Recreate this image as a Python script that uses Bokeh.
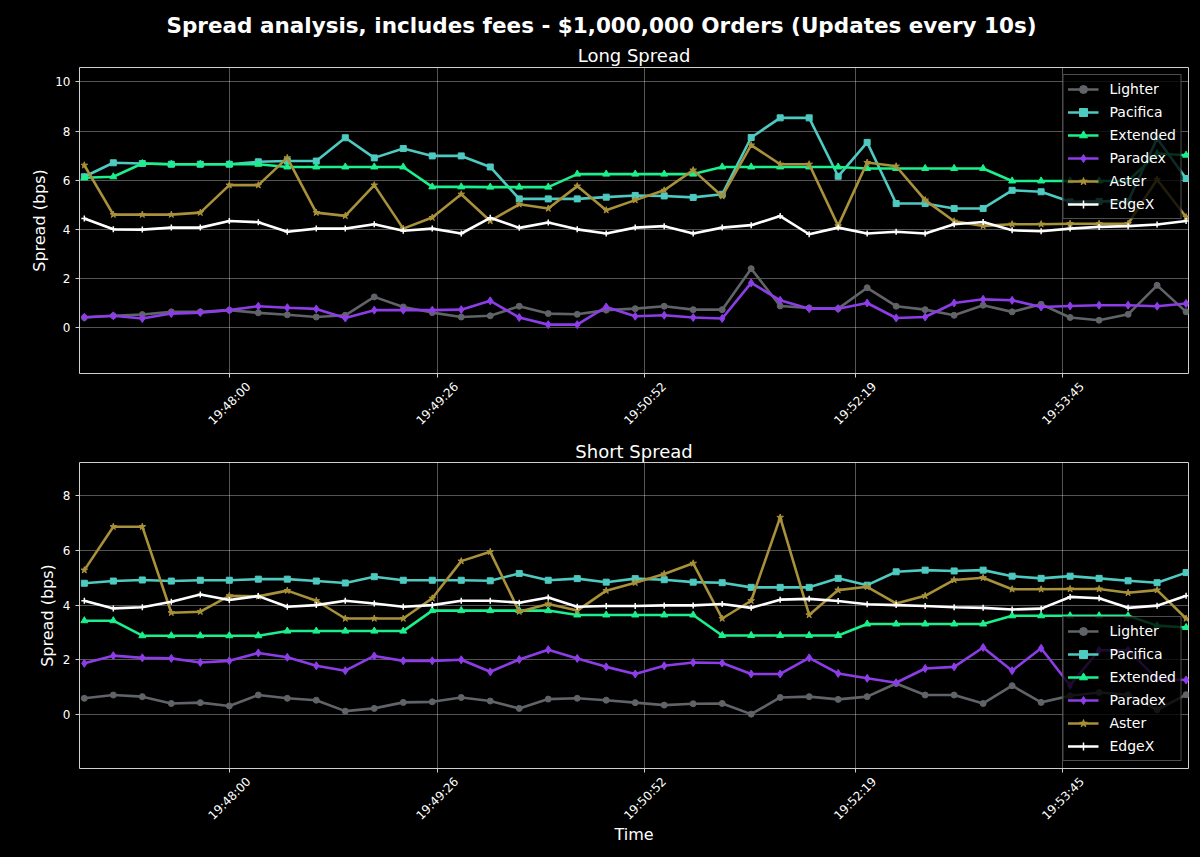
from math import pi
from bokeh.plotting import figure
from bokeh.layouts import column
from bokeh.models import Title, FixedTicker, Legend, LegendItem, Range1d, ColumnDataSource, LinearAxis
from bokeh.embed import file_html
from bokeh.resources import INLINE

FONT = "DejaVu Sans"

times = ["19:47:00", "19:47:12", "19:47:24", "19:47:36", "19:47:48",
         "19:48:00", "19:48:12", "19:48:24", "19:48:36", "19:48:48",
         "19:49:00", "19:49:12", "19:49:24", "19:49:36", "19:49:48",
         "19:50:00", "19:50:12", "19:50:24", "19:50:36", "19:50:48",
         "19:51:00", "19:51:12", "19:51:24", "19:51:36", "19:51:48",
         "19:52:00", "19:52:12", "19:52:24", "19:52:36", "19:52:48",
         "19:53:00", "19:53:12", "19:53:24", "19:53:36", "19:53:48",
         "19:54:00", "19:54:12", "19:54:24", "19:54:36"]

tick_labels = ["19:48:00", "19:49:26", "19:50:52", "19:52:19", "19:53:45"]

exchanges = ["Lighter", "Pacifica", "Extended", "Paradex", "Aster", "EdgeX"]
colors = ["#606367", "#4ecac1", "#1bf08c", "#8d3de8", "#a8913a", "#ffffff"]
markers = ["circle", "square", "triangle", "diamond", "star", "cross"]
marker_sizes = [6, 6, 7, 8, 7, 6]

# Long spread (bps)
lighter_long = [0.41, 0.48, 0.53, 0.64, 0.64, 0.71, 0.60, 0.52, 0.43, 0.50, 1.25, 0.84, 0.61,
                0.43, 0.48, 0.87, 0.57, 0.54, 0.71, 0.77, 0.87, 0.73, 0.73, 2.40, 0.88, 0.80,
                0.77, 1.62, 0.87, 0.73, 0.50, 0.91, 0.64, 0.95, 0.41, 0.30, 0.54, 1.72, 0.64]
pacifica_long = [6.14, 6.71, 6.68, 6.65, 6.65, 6.65, 6.75, 6.78, 6.78, 7.73, 6.91, 7.29, 6.99,
                 6.99, 6.54, 5.24, 5.24, 5.24, 5.31, 5.38, 5.36, 5.30, 5.43, 7.74, 8.54, 8.54,
                 6.16, 7.54, 5.05, 5.05, 4.85, 4.85, 5.59, 5.53, 5.12, 5.14, 5.14, 7.70, 6.07]
extended_long = [6.10, 6.14, 6.68, 6.65, 6.65, 6.65, 6.65, 6.54, 6.54, 6.54, 6.54, 6.54, 5.73,
                 5.73, 5.72, 5.72, 5.72, 6.25, 6.25, 6.25, 6.25, 6.25, 6.54, 6.54, 6.54, 6.54,
                 6.54, 6.48, 6.48, 6.48, 6.48, 6.48, 5.97, 5.97, 5.97, 5.97, 5.97, 7.09, 7.02]
paradex_long = [0.42, 0.48, 0.37, 0.57, 0.61, 0.71, 0.87, 0.81, 0.76, 0.39, 0.71, 0.71, 0.71,
                0.73, 1.09, 0.41, 0.12, 0.12, 0.84, 0.46, 0.50, 0.41, 0.37, 1.82, 1.11, 0.77,
                0.77, 1.00, 0.39, 0.43, 1.00, 1.15, 1.11, 0.84, 0.88, 0.91, 0.91, 0.87, 0.98]
aster_long = [6.61, 4.60, 4.60, 4.60, 4.68, 5.80, 5.80, 6.91, 4.68, 4.55, 5.80, 4.03, 4.48,
              5.43, 4.34, 5.02, 4.85, 5.76, 4.78, 5.19, 5.59, 6.41, 5.35, 7.43, 6.65, 6.65,
              4.14, 6.72, 6.57, 5.19, 4.33, 4.14, 4.21, 4.21, 4.23, 4.23, 4.23, 6.03, 4.50]
edgex_long = [4.44, 4.00, 3.99, 4.07, 4.07, 4.34, 4.29, 3.90, 4.03, 4.03, 4.21, 3.94, 4.03,
              3.83, 4.47, 4.06, 4.28, 4.00, 3.83, 4.07, 4.13, 3.83, 4.07, 4.17, 4.54, 3.80,
              4.07, 3.83, 3.90, 3.83, 4.21, 4.30, 3.96, 3.92, 4.03, 4.10, 4.13, 4.20, 4.34]

# Short spread (bps)
lighter_short = [0.59, 0.71, 0.65, 0.40, 0.43, 0.31, 0.71, 0.59, 0.52, 0.12, 0.22, 0.44, 0.46,
                 0.62, 0.49, 0.22, 0.56, 0.59, 0.52, 0.43, 0.34, 0.39, 0.40, 0.01, 0.62, 0.65,
                 0.55, 0.65, 1.13, 0.71, 0.71, 0.40, 1.05, 0.44, 0.68, 0.80, 0.72, 0.17, 0.72]
pacifica_short = [4.80, 4.88, 4.92, 4.88, 4.91, 4.91, 4.95, 4.95, 4.88, 4.81, 5.04, 4.91, 4.91,
                  4.91, 4.89, 5.16, 4.91, 4.97, 4.84, 4.97, 4.93, 4.84, 4.82, 4.65, 4.65, 4.65,
                  4.98, 4.73, 5.22, 5.28, 5.25, 5.28, 5.06, 4.98, 5.06, 4.98, 4.89, 4.82, 5.19]
extended_short = [3.43, 3.43, 2.88, 2.88, 2.88, 2.88, 2.88, 3.05, 3.05, 3.05, 3.05, 3.05, 3.80,
                  3.80, 3.80, 3.80, 3.80, 3.64, 3.64, 3.64, 3.64, 3.64, 2.89, 2.89, 2.89, 2.89,
                  2.89, 3.31, 3.31, 3.31, 3.31, 3.31, 3.61, 3.61, 3.61, 3.61, 3.61, 3.25, 3.18]
paradex_short = [1.87, 2.15, 2.07, 2.05, 1.90, 1.96, 2.25, 2.09, 1.78, 1.60, 2.14, 1.96, 1.96,
                 2.00, 1.56, 2.01, 2.37, 2.05, 1.74, 1.48, 1.78, 1.90, 1.88, 1.48, 1.48, 2.07,
                 1.50, 1.32, 1.16, 1.68, 1.74, 2.45, 1.60, 2.42, 1.06, 2.35, 2.35, 1.30, 1.26]
aster_short = [5.28, 6.87, 6.87, 3.72, 3.76, 4.34, 4.32, 4.53, 4.16, 3.51, 3.51, 3.51, 4.25,
               5.61, 5.95, 3.76, 4.04, 3.80, 4.53, 4.82, 5.14, 5.53, 3.51, 4.16, 7.21, 3.64,
               4.55, 4.67, 4.06, 4.34, 4.92, 5.00, 4.58, 4.58, 4.59, 4.59, 4.45, 4.55, 3.51]
edgex_short = [4.16, 3.88, 3.92, 4.12, 4.39, 4.19, 4.33, 3.94, 4.00, 4.16, 4.06, 3.94, 4.00,
               4.16, 4.16, 4.09, 4.28, 3.94, 3.97, 3.97, 3.99, 3.99, 4.04, 3.90, 4.20, 4.23,
               4.15, 4.03, 4.00, 3.97, 3.92, 3.90, 3.84, 3.87, 4.30, 4.25, 3.90, 3.98, 4.34]

long_series = [lighter_long, pacifica_long, extended_long, paradex_long, aster_long, edgex_long]
short_series = [lighter_short, pacifica_short, extended_short, paradex_short, aster_short, edgex_short]


def to_sec(s):
    h, m, sec = map(int, s.split(":"))
    return h * 3600 + m * 60 + sec


t0 = to_sec(times[0])
xs = [to_sec(t) - t0 for t in times]
tick_pos = [to_sec(t) - t0 for t in tick_labels]
# rotated labels are centred on their tick (shift in seconds ~ 19 px)
LABEL_SHIFT = 8
label_pos = [tp + LABEL_SHIFT for tp in tick_pos]


def style_axis(ax):
    ax.axis_line_color = None
    ax.major_tick_line_color = "#cfcfcf"
    ax.major_tick_out = 4
    ax.major_tick_in = 0
    ax.minor_tick_line_color = None
    ax.major_label_text_font = FONT
    ax.major_label_text_font_size = "12px"
    ax.major_label_text_color = "white"
    ax.axis_label_text_font = FONT
    ax.axis_label_text_font_size = "16px"
    ax.axis_label_text_font_style = "normal"
    ax.axis_label_text_color = "white"
    ax.major_label_standoff = 5
    ax.axis_label_standoff = 3


def make_panel(series, y_lo, y_hi, yticks, height, top, bottom, legend_loc, xlabel=None):
    p = figure(width=1200, height=height, output_backend="svg", toolbar_location=None,
               x_range=Range1d(-2, 457), y_range=Range1d(y_lo, y_hi),
               min_border_left=79, min_border_right=12, min_border_top=top, min_border_bottom=bottom,
               background_fill_color="black", border_fill_color="black",
               outline_line_color="#cfcfcf", outline_line_width=1)

    # tick marks + grid positions
    xa = p.xaxis[0]
    style_axis(xa)
    xa.ticker = FixedTicker(ticks=tick_pos)
    xa.major_label_overrides = {tp: "" for tp in tick_pos}
    xa.major_label_text_font_size = "0px"
    xa.major_label_standoff = 0
    # tick labels, rotated and centred on their ticks
    la = LinearAxis(ticker=FixedTicker(ticks=label_pos),
                    major_label_overrides={lp: lbl for lp, lbl in zip(label_pos, tick_labels)})
    style_axis(la)
    la.major_tick_out = 0
    la.major_tick_line_color = None
    la.major_label_orientation = pi / 4
    la.major_label_standoff = 7
    if xlabel:
        la.axis_label = xlabel
        la.axis_label_standoff = -6
    p.add_layout(la, "below")

    ya = p.yaxis[0]
    style_axis(ya)
    ya.ticker = FixedTicker(ticks=yticks)
    ya.axis_label = "Spread (bps)"

    p.grid.grid_line_color = "white"
    p.grid.grid_line_alpha = 0.33
    p.grid.grid_line_width = 1

    items = []
    for name, col, mk, ms, ys in zip(exchanges, colors, markers, marker_sizes, series):
        src = ColumnDataSource(dict(x=xs, y=ys))
        lr = p.line("x", "y", source=src, line_color=col, line_width=2.6)
        sr = p.scatter("x", "y", source=src, marker=mk, size=ms, fill_color=col,
                       line_color=col, line_width=1.5 if mk == "cross" else 1)
        items.append(LegendItem(label=name, renderers=[lr, sr]))
    leg = Legend(items=items, location=legend_loc, margin=7,
                 background_fill_color="black", background_fill_alpha=0.8,
                 border_line_color="#9a9a9a", border_line_width=1,
                 label_text_color="white", label_text_font=FONT, label_text_font_size="14px",
                 glyph_width=31, glyph_height=20, label_height=20, spacing=3,
                 label_standoff=11, padding=4)
    p.add_layout(leg, "center")
    return p


def style_title(t, size, bold, standoff):
    t.text_font = FONT
    t.text_font_size = size
    t.text_font_style = "bold" if bold else "normal"
    t.text_color = "white"
    t.standoff = standoff


p1 = make_panel(long_series, -1.87, 10.59, [0, 2, 4, 6, 8, 10], 437, 67, 64, "top_right")
p1.title.text = "Spread analysis, includes fees - $1,000,000 Orders (Updates every 10s)"
p1.title.align = "left"
p1.title.offset = 87
style_title(p1.title, "21.5px", True, 6)
sub1 = Title(text="Long Spread", align="center")
style_title(sub1, "18px", False, 4)
p1.add_layout(sub1, "above")

p2 = make_panel(short_series, -1.98, 9.22, [0, 2, 4, 6, 8], 420, 25, 89, "bottom_right", xlabel="Time")
p2.title.text = "Short Spread"
p2.title.align = "center"
style_title(p2.title, "18px", False, 2)

layout = column(p1, p2, spacing=0, styles={"background-color": "black"})
html = file_html(layout, INLINE, title="Spread analysis")
html = html.replace("<body>", '<body style="margin:0;background:black;">')
open("out.html", "w").write(html)
